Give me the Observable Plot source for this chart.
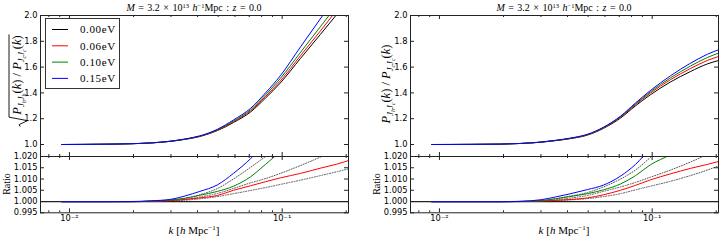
<!DOCTYPE html>
<html><head><meta charset="utf-8">
<script src="https://cdn.jsdelivr.net/npm/d3@7"></script>
<script src="https://cdn.jsdelivr.net/npm/@observablehq/plot@0.6"></script>
<style>
body{margin:0;background:#fff;}
#wrap{position:relative;width:723px;height:243px;overflow:hidden;}
#wrap svg{position:absolute;left:0;top:0;}
</style></head><body><div id="wrap"></div>
<script>
// ---- data ----
const k = [0.0092,0.014,0.0194,0.024,0.030,0.035,0.041,0.0496,0.059,0.071,0.0835,0.098,0.122,0.151,0.182,0.205];
const massLabels = ["0.00eV","0.06eV","0.10eV","0.15eV"];
const lineColors = ["#000000","#ff0000","#008000","#0000ff"];

// left: sqrt(P_hh/P_cc)
const ltBlack = [1.000,1.002,1.006,1.012,1.025,1.040,1.062,1.108,1.170,1.252,1.360,1.477,1.668,1.852,2.015,2.115];
const ltRed   = [1.000,1.002,1.006,1.012,1.025,1.041,1.063,1.111,1.176,1.261,1.372,1.493,1.689,1.879,2.049,2.154];
const ltGreen = [1.000,1.002,1.006,1.012,1.026,1.042,1.065,1.114,1.182,1.269,1.385,1.512,1.715,1.912,2.085,2.195];
const ltBlue  = [1.000,1.002,1.006,1.012,1.026,1.043,1.067,1.118,1.190,1.280,1.400,1.533,1.757,1.973,2.160,2.280];
const lbRed   = [0.9999,0.9999,0.9999,1.0001,1.0004,1.0009,1.0016,1.0027,1.0050,1.0070,1.0088,1.0105,1.0125,1.0148,1.0167,1.0182];
const lbGreen = [0.9999,0.9999,0.9999,1.0002,1.0007,1.0015,1.0028,1.0045,1.0068,1.0110,1.0165,1.0220,1.0270,1.0310,1.0340,1.0360];
const lbBlue  = [0.9999,0.9999,1.0000,1.0003,1.0010,1.0025,1.0045,1.0074,1.0125,1.0190,1.0260,1.0320,1.0400,1.0470,1.0530,1.0560];
const lbDotRed   = [1.0000,1.0000,1.0000,1.0000,1.0002,1.0006,1.0012,1.0022,1.0035,1.0049,1.0062,1.0076,1.0095,1.0115,1.0133,1.0145];
const lbDotGreen = [1.0000,1.0000,1.0000,1.0001,1.0004,1.0010,1.0020,1.0036,1.0058,1.0083,1.0102,1.0125,1.0160,1.0197,1.0230,1.0250];
const lbDotBlue  = [1.0000,1.0000,1.0000,1.0001,1.0006,1.0014,1.0030,1.0058,1.0100,1.0152,1.0200,1.0250,1.0310,1.0360,1.0400,1.0420];

// right: P_hc/P_cc
const rtBlack = [1.000,1.001,1.003,1.008,1.018,1.030,1.045,1.073,1.125,1.205,1.300,1.385,1.485,1.565,1.625,1.651];
const rtRed   = [1.000,1.001,1.003,1.008,1.018,1.030,1.046,1.075,1.128,1.211,1.309,1.398,1.503,1.588,1.652,1.682];
const rtGreen = [1.000,1.001,1.003,1.008,1.018,1.031,1.047,1.077,1.131,1.215,1.315,1.408,1.517,1.607,1.675,1.708];
const rtBlue  = [1.000,1.001,1.003,1.008,1.019,1.032,1.049,1.079,1.134,1.220,1.322,1.418,1.533,1.629,1.700,1.734];
const rbRed   = [0.9999,0.9999,0.9999,1.0000,1.0002,1.0005,1.0009,1.0016,1.0030,1.0050,1.0072,1.0096,1.0123,1.0147,1.0165,1.0178];
const rbGreen = [0.9999,0.9999,0.9999,1.0000,1.0004,1.0012,1.0022,1.0035,1.0052,1.0078,1.0115,1.0163,1.0208,1.0260,1.0300,1.0330];
const rbBlue  = [0.9999,0.9999,0.9999,1.0001,1.0008,1.0020,1.0034,1.0053,1.0073,1.0113,1.0165,1.0235,1.0320,1.0400,1.0470,1.0500];
const rbDotRed   = [1.0000,1.0000,1.0000,1.0000,1.0001,1.0003,1.0007,1.0013,1.0022,1.0035,1.0052,1.0068,1.0090,1.0115,1.0140,1.0158];
const rbDotGreen = [1.0000,1.0000,1.0000,1.0000,1.0002,1.0007,1.0015,1.0027,1.0045,1.0065,1.0085,1.0108,1.0140,1.0175,1.0210,1.0235];
const rbDotBlue  = [1.0000,1.0000,1.0000,1.0001,1.0004,1.0012,1.0024,1.0040,1.0065,1.0100,1.0140,1.0195,1.0270,1.0340,1.0400,1.0440];

const topTicks = [1.0,1.2,1.4,1.6,1.8,2.0];
const ratioTicks = [0.995,1.000,1.005,1.010,1.015,1.020];
const xMajor = [0.01,0.1];
const xMajorLabels = ["10\u207B\u00B2","10\u207B\u00B9"];
const xMinor = [0.008,0.009,0.02,0.03,0.04,0.05,0.06,0.07,0.08,0.09,0.2];

// ---- layout ----
const W = 723, H = 243, FW = 308;
const XDOM = [0.00731, 0.205];
const SANS = "DejaVu Sans", SERIF = "Liberation Serif";
const wrap = document.getElementById("wrap");

function rows(arrs, names) {
  return arrs.flatMap((a, i) => k.map((kk, j) => ({k: kk, v: a[j], s: names[i]})));
}

function panel({x0, top, bottom, yDomain, yTicks, fmt, solid, solidNames, dotted, rule, xLabels}) {
  const fh = bottom - top;
  const marks = [];
  if (dotted) marks.push(Plot.line(rows(dotted, ["a","b","c"]), {x:"k", y:"v", z:"s", stroke:"#555", strokeWidth:1, strokeDasharray:"1,1.6", clip:true, curve:"monotone-x"}));
  if (rule) marks.push(Plot.ruleY([1], {stroke:"#222", strokeWidth:1.2}));
  marks.push(Plot.line(rows(solid, solidNames), {x:"k", y:"v", z:"s", stroke:"s", strokeWidth:1, clip:true, curve:"monotone-x"}));
  // ticks (inward, all sides)
  marks.push(Plot.tickY(yTicks, {y:d=>d, insetRight:FW-4, stroke:"#222"}));
  marks.push(Plot.tickY(yTicks, {y:d=>d, insetLeft:FW-4, stroke:"#222"}));
  marks.push(Plot.tickX(xMajor, {x:d=>d, insetTop:fh-4, stroke:"#222"}));
  marks.push(Plot.tickX(xMajor, {x:d=>d, insetBottom:fh-4, stroke:"#222"}));
  marks.push(Plot.tickX(xMinor, {x:d=>d, insetTop:fh-2, stroke:"#222"}));
  marks.push(Plot.tickX(xMinor, {x:d=>d, insetBottom:fh-2, stroke:"#222"}));
  marks.push(Plot.frame({stroke:"#222", strokeWidth:1}));
  marks.push(Plot.text(yTicks, {y:d=>d, text:fmt, frameAnchor:"left", textAnchor:"end", dx:-3, fontSize:8.3, fontFamily:SANS, fill:"#000"}));
  if (xLabels) marks.push(Plot.text(xMajor, {x:d=>d, text:(d,i)=>xMajorLabels[i], frameAnchor:"bottom", dy:8, fontSize:8.3, fontFamily:SANS, fill:"#000"}));
  const p = Plot.plot({
    width: W, height: H,
    marginLeft: x0, marginRight: W - x0 - FW, marginTop: top, marginBottom: H - bottom,
    x: {type:"log", domain: XDOM, axis:null},
    y: {domain: yDomain, axis:null},
    color: {domain: massLabels, range: lineColors},
    style: {background:"transparent", overflow:"visible"},
    marks
  });
  wrap.appendChild(p);
}

const f1 = d3.format(".1f"), f3 = d3.format(".3f");

panel({x0:40, top:15, bottom:156, yDomain:[0.907,2.0], yTicks:topTicks, fmt:f1,
  solid:[ltBlack,ltRed,ltGreen,ltBlue], solidNames:massLabels});
panel({x0:40, top:156, bottom:212.3, yDomain:[0.995,1.02], yTicks:ratioTicks, fmt:f3,
  solid:[lbRed,lbGreen,lbBlue], solidNames:massLabels.slice(1), dotted:[lbDotRed,lbDotGreen,lbDotBlue], rule:true, xLabels:true});
panel({x0:410, top:15, bottom:156, yDomain:[0.907,2.0], yTicks:topTicks, fmt:f1,
  solid:[rtBlack,rtRed,rtGreen,rtBlue], solidNames:massLabels});
panel({x0:410, top:156, bottom:212.3, yDomain:[0.995,1.02], yTicks:ratioTicks, fmt:f3,
  solid:[rbRed,rbGreen,rbBlue], solidNames:massLabels.slice(1), dotted:[rbDotRed,rbDotGreen,rbDotBlue], rule:true, xLabels:true});

// ---- overlay text: titles, axis labels, legend ----
const ov = d3.select(wrap).append("svg").attr("width", W).attr("height", H)
  .attr("font-family", SERIF).attr("fill", "#000");

const titleHTML = `<tspan font-style="italic">M</tspan> = 3.2 × 10<tspan font-size="6.5" dy="-3.5">13</tspan><tspan dy="3.5"> </tspan><tspan font-style="italic">h</tspan><tspan font-size="6.5" dy="-3.5">−1</tspan><tspan dy="3.5">Mpc  :  </tspan><tspan font-style="italic">z</tspan> = 0.0`;
for (const cx of [194, 564]) {
  ov.append("text").attr("x", cx).attr("y", 11).attr("text-anchor", "middle").attr("font-size", 10).attr("word-spacing", 1).html(titleHTML);
}
const xlabHTML = `<tspan font-style="italic">k</tspan> [<tspan font-style="italic">h</tspan> Mpc<tspan font-size="7" dy="-4">−1</tspan><tspan dy="4">]</tspan>`;
for (const cx of [194, 564]) {
  ov.append("text").attr("x", cx).attr("y", 234).attr("text-anchor", "middle").attr("font-size", 11).html(xlabHTML);
}
for (const cx of [10, 380]) {
  ov.append("text").attr("transform", `translate(${cx},184) rotate(-90)`).attr("text-anchor", "middle").attr("font-size", 10).text("Ratio");
}
function pSub(a, b) {
  return `<tspan font-style="italic">P</tspan><tspan font-style="italic" font-size="8.5" dy="3">J</tspan><tspan font-style="italic" font-size="6" dy="1.5">${a}</tspan><tspan font-style="italic" font-size="8.5" dy="-1.5">J</tspan><tspan font-style="italic" font-size="6" dy="1.5">${b}</tspan><tspan dy="-4.5">(</tspan><tspan font-style="italic">k</tspan>)`;
}
// left y label with radical
const gL = ov.append("g").attr("transform", "translate(21,80) rotate(-90)");
const rad = gL.append("text").attr("x", 5).attr("y", 0).attr("text-anchor", "middle").attr("font-size", 12.5)
  .html(pSub("h","h") + " / " + pSub("c","c"));
const b = rad.node().getBBox();
gL.append("path").attr("fill", "none").attr("stroke", "#000").attr("stroke-width", 0.9)
  .attr("d", `M${b.x-11},${b.y+b.height*0.62} L${b.x-9},${b.y+b.height*0.55} L${b.x-5},${b.y+b.height+1} L${b.x-1.5},${b.y-1} L${b.x+b.width+1},${b.y-1}`);
// right y label
ov.append("g").attr("transform", "translate(390,84) rotate(-90)")
  .append("text").attr("text-anchor", "middle").attr("font-size", 12.5).html(pSub("h","c") + " / " + pSub("c","c"));

// legend
const lg = ov.append("g");
lg.append("rect").attr("x", 45.5).attr("y", 18.5).attr("width", 74).attr("height", 70)
  .attr("fill", "#fff").attr("stroke", "#333").attr("stroke-width", 1);
massLabels.forEach((lab, i) => {
  const yy = 29.5 + i * 16.3;
  lg.append("line").attr("x1", 52).attr("x2", 68).attr("y1", yy).attr("y2", yy).attr("stroke", lineColors[i]).attr("stroke-width", 1);
  lg.append("text").attr("x", 80).attr("y", yy + 3.8).attr("font-size", 11).attr("letter-spacing", 0.6).text(lab);
});
</script></body></html>
